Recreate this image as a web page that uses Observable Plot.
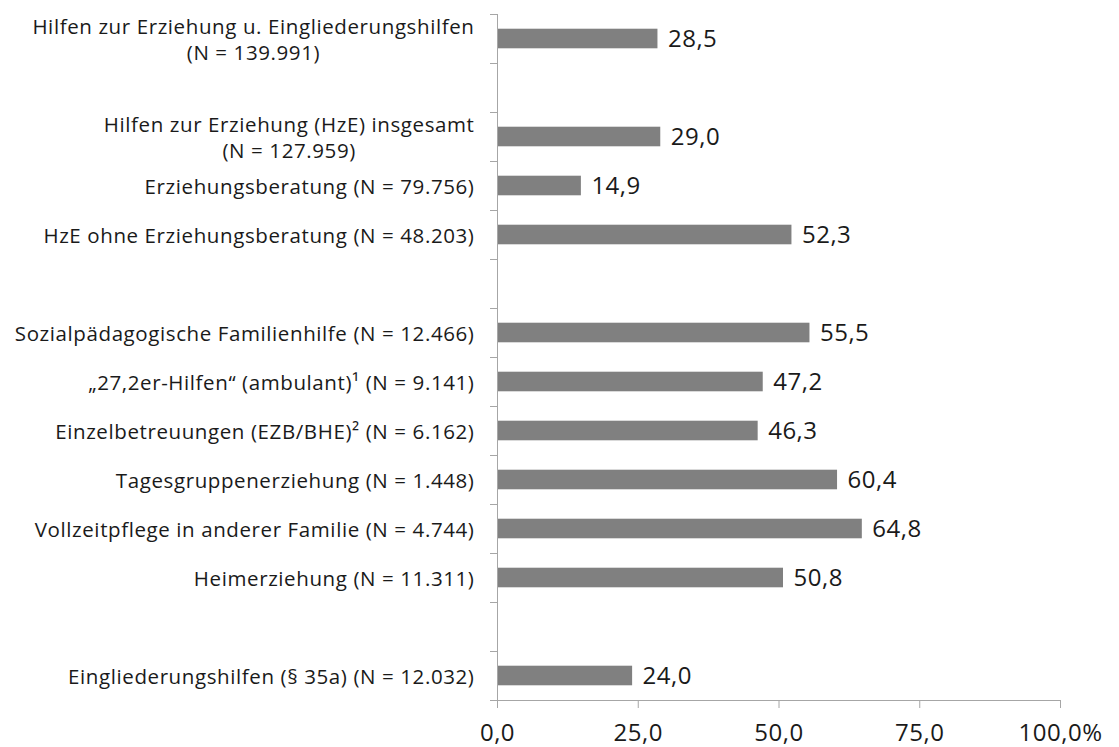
<!DOCTYPE html>
<html>
<head>
<meta charset="utf-8">
<script src="https://cdn.jsdelivr.net/npm/d3@7"></script>
<script src="https://cdn.jsdelivr.net/npm/@observablehq/plot@0.6"></script>
<style>
  html, body { margin: 0; padding: 0; background: #fff; }
  #chart svg { font-family: "Open Sans", Lato, sans-serif; }
  #chart svg g[aria-label="y-axis tick label"] text { letter-spacing: 0.6px; }
  #chart svg g[aria-label="text"] text, #chart svg g[aria-label="x-axis tick label"] text { letter-spacing: 0.5px; }
</style>
</head>
<body>
<div id="chart"></div>
<script>
// Categories (top to bottom); empty strings are spacer rows
const categories = [
  "Hilfen zur Erziehung u. Eingliederungshilfen\n(N = 139.991)",
  "",
  "Hilfen zur Erziehung (HzE) insgesamt\n(N = 127.959)",
  "Erziehungsberatung (N = 79.756)",
  "HzE ohne Erziehungsberatung (N = 48.203)",
  "",
  "Sozialpädagogische Familienhilfe (N = 12.466)",
  "„27,2er-Hilfen“ (ambulant)¹ (N = 9.141)",
  "Einzelbetreuungen (EZB/BHE)² (N = 6.162)",
  "Tagesgruppenerziehung (N = 1.448)",
  "Vollzeitpflege in anderer Familie (N = 4.744)",
  "Heimerziehung (N = 11.311)",
  "",
  "Eingliederungshilfen (§ 35a) (N = 12.032)"
];
// Percent values (null for spacer rows)
const values = [28.5, null, 29.0, 14.9, 52.3, null, 55.5, 47.2, 46.3, 60.4, 64.8, 50.8, null, 24.0];
// X axis ticks
const xTicks = [0, 25, 50, 75, 100];
const xTickLabels = ["0,0", "25,0", "50,0", "75,0", "100,0%"];

const rows = categories.map((label, i) => ({i, label, value: values[i]}));
const bars = rows.filter(d => d.value != null);
const boundaries = d3.range(categories.length + 1).map(k => k - 0.5);
const fmt = v => v.toFixed(1).replace(".", ",");
const axisColor = "#a6a6a6";

const chart = Plot.plot({
  width: 1119,
  height: 747,
  marginLeft: 497,
  marginRight: 59,
  marginTop: 14,
  marginBottom: 47,
  x: {domain: [0, 100], label: null},
  y: {domain: [-0.5, categories.length - 0.5], reverse: true, label: null},
  marks: [
    Plot.rectX(bars, {
      x1: 0, x2: "value",
      y1: d => d.i - 0.2, y2: d => d.i + 0.2,
      fill: "#808080"
    }),
    Plot.text(bars, {
      x: "value", y: "i", text: d => fmt(d.value),
      dx: 10, textAnchor: "start", fontSize: 24, fill: "#1a1a1a"
    }),
    // y axis line
    Plot.ruleX([0], {y1: boundaries[0], y2: boundaries[boundaries.length - 1], stroke: axisColor}),
    // x axis line
    Plot.ruleY([boundaries[boundaries.length - 1]], {x1: 0, x2: 100, stroke: axisColor}),
    // y boundary ticks
    Plot.axisY({ticks: boundaries, tickSize: 7, tickFormat: () => "", stroke: axisColor, label: null}),
    // y labels
    Plot.axisY({
      ticks: d3.range(categories.length), tickSize: 0, tickPadding: 23,
      tickFormat: i => categories[i], fontSize: 20.5, lineHeight: 1.25, fill: "#1a1a1a", label: null
    }),
    // x axis
    Plot.axisX({
      ticks: xTicks, tickSize: 8, tickPadding: 15,
      tickFormat: d => xTickLabels[xTicks.indexOf(d)],
      fontSize: 24, stroke: axisColor, fill: "#1a1a1a", label: null
    })
  ]
});

document.getElementById("chart").appendChild(chart);

// Center multi-line category labels on their longest line (as in the reference)
chart.querySelectorAll("text").forEach(t => {
  const spans = t.querySelectorAll("tspan");
  if (spans.length > 1) {
    const bb = t.getBBox();
    const cx = bb.x + bb.width / 2;
    spans.forEach(s => {
      s.setAttribute("x", cx);
      s.setAttribute("text-anchor", "middle");
    });
  }
});
</script>
</body>
</html>
